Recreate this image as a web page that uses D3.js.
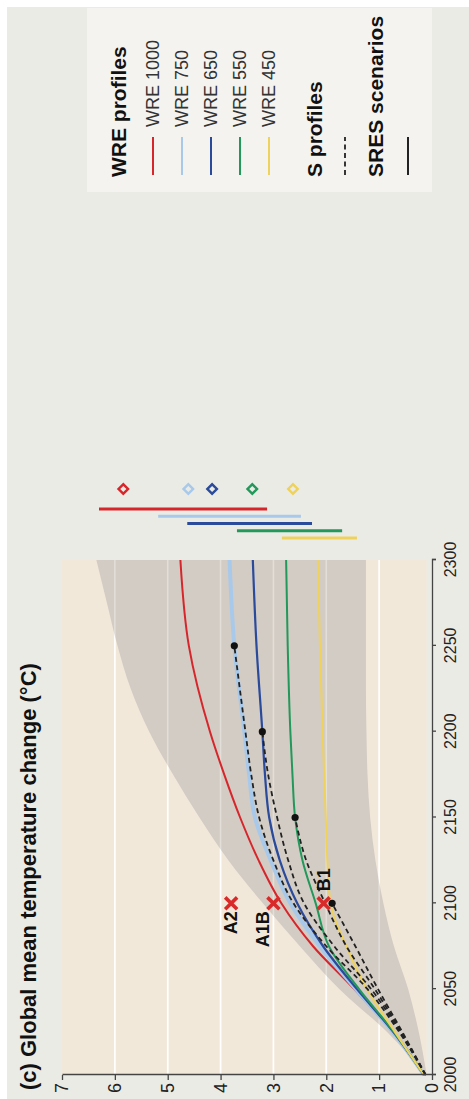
<!DOCTYPE html>
<html>
<head>
<meta charset="utf-8">
<script src="https://cdn.jsdelivr.net/npm/d3@7"></script>
<style>
  body { margin: 0; background: #fff; }
  svg { display: block; }
  text { font-family: "Liberation Sans", Arial, Helvetica, sans-serif; fill: #111; }
</style>
</head>
<body>
<svg id="chart" width="469" height="1099"></svg>
<script>
// ---- data ----
const years = [2000, 2025, 2050, 2075, 2100, 2125, 2150, 2175, 2200, 2250, 2300];

const wreNames  = ["WRE 1000", "WRE 750", "WRE 650", "WRE 550", "WRE 450"];
const wreColors = ["#d7262b", "#a8c9ea", "#2a4a9b", "#22985a", "#efd25c"];
const wre1000 = [0.15, 0.75, 1.47, 2.25, 2.85, 3.28, 3.63, 3.93, 4.20, 4.60, 4.76];
const wre750  = [0.15, 0.74, 1.44, 2.12, 2.68, 3.05, 3.35, 3.46, 3.55, 3.74, 3.83];
const wre650  = [0.15, 0.73, 1.42, 2.06, 2.55, 2.88, 3.08, 3.16, 3.21, 3.32, 3.39];
const wre550  = [0.15, 0.72, 1.38, 1.95, 2.20, 2.45, 2.59, 2.64, 2.68, 2.73, 2.76];
const wre450  = [0.15, 0.70, 1.23, 1.62, 1.92, 1.98, 2.01, 2.04, 2.07, 2.12, 2.16];

// S profiles run until their stabilisation year (marked with a dot)
const s750 = [0.12, 0.62, 1.22, 2.00, 2.62, 3.00, 3.27, 3.42, 3.53, 3.74];
const s650 = [0.12, 0.60, 1.15, 1.85, 2.42, 2.72, 2.93, 3.10, 3.21];
const s550 = [0.12, 0.58, 1.08, 1.62, 2.02, 2.38, 2.59];
const s450 = [0.12, 0.56, 1.02, 1.45, 1.89];

// uncertainty envelope
const bandYears = [2000, 2025, 2050, 2075, 2100, 2125, 2150, 2175, 2200, 2225, 2250, 2275, 2300];
const bandUpper = [0.12, 0.85, 1.75, 2.50, 3.20, 3.85, 4.40, 4.90, 5.35, 5.70, 5.95, 6.15, 6.35];
const bandLower = [0.10, 0.25, 0.45, 0.72, 0.92, 1.07, 1.17, 1.22, 1.24, 1.25, 1.25, 1.25, 1.25];

// SRES scenarios in 2100
const sresNames  = ["A2", "A1B", "B1"];
const sresYear   = 2100;
const sresValues = [3.8, 3.0, 2.05];

// ranges and central values shown beside the plot
const rangeLow  = [3.12, 2.48, 2.27, 1.70, 1.42];
const rangeHigh = [6.30, 5.18, 4.63, 3.69, 2.84];
const rangeMid  = [5.84, 4.61, 4.16, 3.40, 2.63];

const tempTicks = [0, 1, 2, 3, 4, 5, 6, 7];
const yearTicks = [2000, 2050, 2100, 2150, 2200, 2250, 2300];

// ---- layout (drawn landscape, then turned a quarter turn) ----
const W = 1099, H = 469;
const svg = d3.select("#chart");
const g = svg.append("g").attr("transform", `translate(0,${W}) rotate(-90)`);

g.append("rect").attr("width", W).attr("height", H).attr("fill", "#ffffff");
g.append("rect").attr("x", 0).attr("y", 7).attr("width", W - 7).attr("height", H - 7).attr("fill", "#ebebe6");

const x = d3.scaleLinear().domain([2000, 2300]).range([24, 539]);
const y = d3.scaleLinear().domain([0, 7]).range([432, 62]);

// plot panel
g.append("rect")
  .attr("x", x(2000)).attr("y", y(7))
  .attr("width", x(2300) - x(2000)).attr("height", y(0.1) - y(7))
  .attr("fill", "#f2e8da");

const gridVals = [1, 2, 3, 4, 5, 6];
const drawGrid = (op) => g.append("g").selectAll("line").data(gridVals).join("line")
  .attr("x1", x(2000)).attr("x2", x(2300))
  .attr("y1", d => y(d)).attr("y2", d => y(d))
  .attr("stroke", "#ffffff").attr("stroke-opacity", op).attr("stroke-width", 1.6);

drawGrid(1);

const bandData = bandYears.map((yr, i) => ({ yr, lo: bandLower[i], hi: bandUpper[i] }));
g.append("path")
  .datum(bandData)
  .attr("fill", "#d3ccc4")
  .attr("d", d3.area().curve(d3.curveMonotoneX)
    .x(d => x(d.yr)).y0(d => y(d.lo)).y1(d => y(d.hi)));

drawGrid(0.35);

const line = d3.line().curve(d3.curveMonotoneX).x(d => x(d[0])).y(d => y(d[1]));
const zipYears = vals => vals.map((v, i) => [years[i], v]);

const wreSeries = [wre1000, wre750, wre650, wre550, wre450];
const wreWidths = [2, 4, 2.2, 2, 2];
wreSeries.forEach((vals, i) => {
  g.append("path").datum(zipYears(vals))
    .attr("fill", "none").attr("stroke", wreColors[i])
    .attr("stroke-width", wreWidths[i]).attr("d", line);
});

const sSeries = [s750, s650, s550, s450];
sSeries.forEach(vals => {
  g.append("path").datum(zipYears(vals))
    .attr("fill", "none").attr("stroke", "#222")
    .attr("stroke-width", 1.8).attr("stroke-dasharray", "5,3.5").attr("d", line);
});

// stabilisation points at the end of each S profile
g.append("g").selectAll("circle").data(sSeries).join("circle")
  .attr("cx", d => x(years[d.length - 1]))
  .attr("cy", d => y(d[d.length - 1]))
  .attr("r", 3.6).attr("fill", "#111");

// SRES markers
const cross = d3.symbol().type(d3.symbolX).size(95);
g.append("g").selectAll("path").data(sresValues).join("path")
  .attr("transform", d => `translate(${x(sresYear)},${y(d)})`)
  .attr("d", cross).attr("fill", "none")
  .attr("stroke", "#d92a2a").attr("stroke-width", 3.6);

const labelOffsets = [[-8, 0, "end"], [-8, -11, "end"], [12, 0, "start"]];
g.append("g").selectAll("text").data(sresNames).join("text")
  .attr("x", (d, i) => x(sresYear) + labelOffsets[i][0])
  .attr("y", (d, i) => y(sresValues[i]) + labelOffsets[i][1])
  .attr("dy", "0.35em")
  .attr("text-anchor", (d, i) => labelOffsets[i][2])
  .attr("font-size", 18).attr("font-weight", "bold")
  .text(d => d);

// axes
const yAxis = d3.axisLeft(y).tickValues(tempTicks).tickFormat(d3.format("d"))
  .tickSize(5).tickSizeOuter(0).tickPadding(3);
const yg = g.append("g").attr("transform", `translate(${x(2000)},0)`).call(yAxis);
yg.selectAll("text").attr("font-size", 18).style("fill", "#222");

const xAxis = d3.axisBottom(x).tickValues(yearTicks).tickFormat(d3.format("d"))
  .tickSize(4).tickSizeOuter(4).tickPadding(9);
const xg = g.append("g").attr("transform", `translate(0,${y(0)})`).call(xAxis);
xg.selectAll("text").attr("font-size", 16).style("fill", "#222");

[yg, xg].forEach(a => {
  a.selectAll("path, line").attr("stroke", "#444").attr("stroke-width", 1.3);
  a.selectAll("text").style("font-family", "\"Liberation Sans\", Arial, sans-serif");
});

// title
g.append("text").attr("x", 9).attr("y", 36)
  .attr("font-size", 22).attr("font-weight", "bold")
  .text("(c) Global mean temperature change (°C)");

// ranges beside the plot
const rx = d3.scalePoint().domain(wreNames).range([590, 561]);
g.append("g").selectAll("line").data(wreNames).join("line")
  .attr("x1", d => rx(d)).attr("x2", d => rx(d))
  .attr("y1", (d, i) => y(rangeLow[i])).attr("y2", (d, i) => y(rangeHigh[i]))
  .attr("stroke", (d, i) => wreColors[i]).attr("stroke-width", 3);

const diamond = d3.symbol().type(d3.symbolSquare).size(46);
g.append("g").selectAll("path").data(wreNames).join("path")
  .attr("transform", (d, i) => `translate(610,${y(rangeMid[i])}) rotate(45)`)
  .attr("d", diamond).attr("fill", "none")
  .attr("stroke", (d, i) => wreColors[i]).attr("stroke-width", 2.4);

// legend
const lg = g.append("g");
lg.append("rect").attr("x", 907).attr("y", 87).attr("width", 184).attr("height", 345).attr("fill", "#f4f3f0");
lg.append("text").attr("x", 922).attr("y", 126).attr("font-size", 21).attr("font-weight", "bold").text("WRE profiles");
const legRows = d3.scalePoint().domain(wreNames).range([153, 269]);
wreNames.forEach((nm, i) => {
  lg.append("line").attr("x1", 924).attr("x2", 962)
    .attr("y1", legRows(nm)).attr("y2", legRows(nm))
    .attr("stroke", wreColors[i]).attr("stroke-width", 2);
  lg.append("text").attr("x", 972).attr("y", legRows(nm)).attr("dy", "0.35em")
    .attr("font-size", 18).style("fill", "#333").text(nm);
});
lg.append("text").attr("x", 922).attr("y", 322).attr("font-size", 21).attr("font-weight", "bold").text("S profiles");
lg.append("line").attr("x1", 924).attr("x2", 962).attr("y1", 345).attr("y2", 345)
  .attr("stroke", "#222").attr("stroke-width", 1.8).attr("stroke-dasharray", "5,3.5");
lg.append("text").attr("x", 922).attr("y", 383).attr("font-size", 21).attr("font-weight", "bold").text("SRES scenarios");
lg.append("line").attr("x1", 924).attr("x2", 962).attr("y1", 408).attr("y2", 408)
  .attr("stroke", "#222").attr("stroke-width", 2);
</script>
</body>
</html>
